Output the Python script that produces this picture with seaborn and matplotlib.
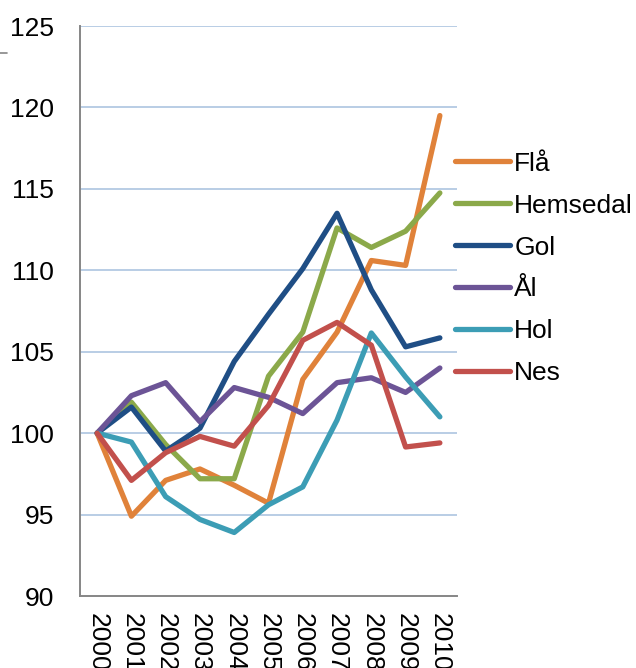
import matplotlib
matplotlib.use("Agg")
import matplotlib.pyplot as plt
import seaborn as sns
import pandas as pd
from matplotlib.lines import Line2D

years = ["2000", "2001", "2002", "2003", "2004", "2005", "2006", "2007", "2008", "2009", "2010"]
fla = [100, 94.9, 97.1, 97.8, 96.8, 95.7, 103.3, 106.2, 110.6, 110.3, 119.5]
hemsedal = [100, 101.9, 99.3, 97.2, 97.2, 103.5, 106.2, 112.6, 111.4, 112.4, 114.75]
gol = [100, 101.6, 98.9, 100.3, 104.4, 107.3, 110.1, 113.5, 108.8, 105.3, 105.85]
aal = [100, 102.3, 103.1, 100.7, 102.8, 102.2, 101.2, 103.1, 103.4, 102.5, 104.0]
hol = [100, 99.45, 96.1, 94.7, 93.9, 95.6, 96.7, 100.8, 106.15, 103.45, 101.0]
nes = [100, 97.1, 98.8, 99.8, 99.2, 101.7, 105.7, 106.8, 105.4, 99.15, 99.4]

series_names = ["Flå", "Hemsedal", "Gol", "Ål", "Hol", "Nes"]
series_vals = [fla, hemsedal, gol, aal, hol, nes]
colors = ["#E0823A", "#8BA94A", "#1F4E85", "#6C5496", "#3C9DB5", "#C2504C"]
yticks = [90, 95, 100, 105, 110, 115, 120, 125]

rows = []
for name, vals in zip(series_names, series_vals):
    for i, v in enumerate(vals):
        rows.append({"pos": i, "Kommune": name, "val": v})
df = pd.DataFrame(rows)

sns.set_style("white")
plt.rcParams["font.family"] = ["Liberation Sans", "DejaVu Sans"]
plt.rcParams["text.color"] = "black"
plt.rcParams["xtick.labelcolor"] = "black"
plt.rcParams["ytick.labelcolor"] = "black"

FS = 19
LW = 3.8

fig = plt.figure(figsize=(6.36, 6.68), dpi=100)
ax = fig.add_axes([80/636, 1-596/668, (457-80)/636, (596-26)/668])

sns.lineplot(data=df, x="pos", y="val", hue="Kommune", hue_order=series_names,
             palette=colors, linewidth=LW, ax=ax, legend=False, zorder=3)

ax.set_xlim(-0.5, len(years) - 0.5)
ax.set_ylim(90, 125)
ax.set_yticks(yticks)
ax.set_yticklabels([str(t) for t in yticks], fontsize=FS, color="black")
ax.set_xticks([i - 0.5 for i in range(len(years) + 1)])
ax.set_xticklabels([])
ax.set_xticks(range(len(years)), minor=True)
ax.set_xticklabels(years, minor=True, rotation=270, fontsize=FS, va="top", ha="center", color="black")
ax.tick_params(axis="x", which="major", direction="out", length=5.5, width=1.2, color="#868686")
ax.tick_params(axis="x", which="minor", length=0, pad=12)
ax.tick_params(axis="y", direction="out", length=5.5, width=1.2, color="#868686", pad=13)
ax.set_xlabel("")
ax.set_ylabel("")

for t in yticks[1:]:
    ax.axhline(t, color="#B9CDE5", lw=1.4, zorder=1)

for s in ["top", "right"]:
    ax.spines[s].set_visible(False)
for s in ["left", "bottom"]:
    ax.spines[s].set_color("#868686")
    ax.spines[s].set_linewidth(1.4)

handles = [Line2D([0], [0], color=c, lw=LW, solid_capstyle="round") for c in colors]
leg = fig.legend(handles, series_names, loc="center left", bbox_to_anchor=(455/636, 1-268.5/668),
                 frameon=False, fontsize=FS, handlelength=2.1, handletextpad=0.15,
                 labelspacing=0.68, borderpad=0, borderaxespad=0)
for txt in leg.get_texts():
    txt.set_color("black")

fig.add_artist(Line2D([0, 7/636], [1-53/668, 1-53/668], color="#868686", lw=1.2))

fig.savefig("out.png", dpi=100)
